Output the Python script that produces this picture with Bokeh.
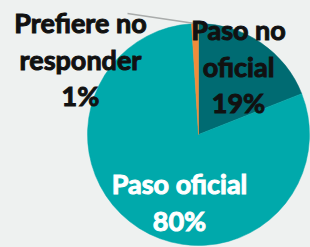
import numpy as np
from bokeh.plotting import figure
from bokeh.models import ColumnDataSource, GlobalInlineStyleSheet
from bokeh.core.properties import value
from bokeh.embed import file_html
from bokeh.resources import INLINE

# ---- data ----
categories = ["Paso no oficial", "Paso oficial", "Prefiere no responder"]
label_lines = [["Paso no", "oficial"], ["Paso oficial"], ["Prefiere no", "responder"]]
percent = [19, 80, 1]
colors = ["#006B72", "#00A9AB", "#F08C3A"]
text_colors = ["#111111", "#FFFFFF", "#111111"]

BG = "#EEF1F0"
W, H = 310, 247

# ---- geometry (layout, in pixels from top-left) ----
cx, cy, r = 198, H - 134, 111
label_x = [238, 179, 80]
label_first_baseline = [29, 183, 22]
line_step = 36.5

vals = np.array(percent, dtype=float)
frac = vals / vals.sum()
cum = np.concatenate([[0], np.cumsum(frac)[:-1]])
start = np.pi / 2 - cum * 2 * np.pi
end = start - frac * 2 * np.pi
mid = (start + end) / 2

src = ColumnDataSource(dict(cat=categories, start=start, end=end, color=colors))

p = figure(width=W, height=H, x_range=(0, W), y_range=(0, H),
           output_backend="svg", toolbar_location=None, min_border=0)
p.axis.visible = False
p.grid.visible = False
p.outline_line_color = None
p.background_fill_color = BG
p.border_fill_color = BG

p.wedge(x=cx, y=cy, radius=r, start_angle="start", end_angle="end",
        direction="clock", fill_color="color", line_color="color",
        line_width=0.5, source=src)

# leader line for the smallest slice
i = int(np.argmin(vals))
ex = cx + r * np.cos(mid[i])
ey = cy + r * np.sin(mid[i])
p.line(x=[127, ex], y=[H - 13, ey], line_color="#A9ACAB", line_width=1.5)

# labels, one text per line
tx, ty, tt, tc = [], [], [], []
for k in range(len(categories)):
    lines = label_lines[k] + [f"{percent[k]}%"]
    for j, s in enumerate(lines):
        tx.append(label_x[k])
        ty.append(H - (label_first_baseline[k] + j * line_step))
        tt.append(s)
        tc.append(text_colors[k])
tsrc = ColumnDataSource(dict(x=tx, y=ty, text=tt, color=tc))
p.text(x="x", y="y", text="text", source=tsrc, text_color="color",
       text_outline_color="color",
       text_font=value("Lato"), text_font_style="bold",
       text_font_size="27px", text_align="center", text_baseline="alphabetic")

p.stylesheets = [GlobalInlineStyleSheet(css=f"body{{margin:0;background:{BG};}}")]

open("out.html", "w").write(file_html(p, INLINE))
